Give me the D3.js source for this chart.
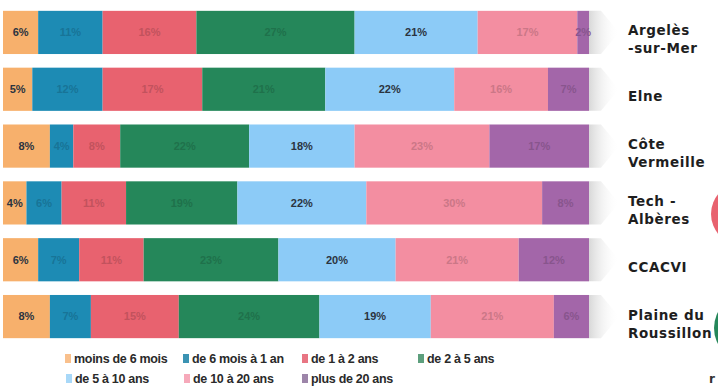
<!DOCTYPE html>
<html>
<head>
<meta charset="utf-8">
<script src="https://cdn.jsdelivr.net/npm/d3@7"></script>
<style>
  body { margin: 0; background: #fff; }
  svg { display: block; }
</style>
</head>
<body>
<script>
const width = 718;
const height = 392;

// communes (right-hand labels, one entry per line)
const communes = [
  ['Argelès', '-sur-Mer'],
  ['Elne'],
  ['Côte', 'Vermeille'],
  ['Tech -', 'Albères'],
  ['CCACVI'],
  ['Plaine du', 'Roussillon']
];
const categories = ['moins de 6 mois', 'de 6 mois à 1 an', 'de 1 à 2 ans', 'de 2 à 5 ans',
  'de 5 à 10 ans', 'de 10 à 20 ans', 'plus de 20 ans'];

// shares in %, one value per commune
const moins6mois = [6, 5, 8, 4, 6, 8];
const de6moisA1an = [11, 12, 4, 6, 7, 7];
const de1a2ans = [16, 17, 8, 11, 11, 15];
const de2a5ans = [27, 21, 22, 19, 23, 24];
const de5a10ans = [21, 22, 18, 22, 20, 19];
const de10a20ans = [17, 16, 23, 30, 21, 21];
const plus20ans = [2, 7, 17, 8, 12, 6];

const series = [moins6mois, de6moisA1an, de1a2ans, de2a5ans, de5a10ans, de10a20ans, plus20ans];

const colors = ['#f7b06c', '#1d8bb4', '#e8626f', '#25875a', '#8ccbf7', '#f38ea1', '#a366a9'];
const legendColors = ['#f9c08c', '#3b93b3', '#e87583', '#5d9f7d', '#a8d8f8', '#f6a9ba', '#9d85a9'];
const darkLabel = [true, false, false, false, true, false, false];

const rows = communes.map((c, i) => {
  const r = { key: i };
  categories.forEach((cat, j) => { r[cat] = series[j][i]; });
  return r;
});

const stacked = d3.stack().keys(categories)(rows);

const xScale = d3.scaleLinear().domain([0, 100]).range([3, 589]);
const yScale = d3.scaleBand().domain(d3.range(communes.length))
  .range([8, 341]).paddingInner(0.24).paddingOuter(0.05);

const svg = d3.select('body').append('svg')
  .attr('width', width)
  .attr('height', height);

const defs = svg.append('defs');
const grad = defs.append('linearGradient').attr('id', 'shade');
grad.append('stop').attr('offset', '0%').attr('stop-color', '#d8d8d8');
grad.append('stop').attr('offset', '100%').attr('stop-color', '#fff').attr('stop-opacity', 0);

// decorative shapes cut by the right edge
svg.append('circle').attr('cx', 742).attr('cy', 214).attr('r', 31).attr('fill', '#e8626f');
svg.append('circle').attr('cx', 748).attr('cy', 328).attr('r', 34).attr('fill', '#25875a');
svg.append('text').attr('x', 709).attr('y', 383).text('r')
  .style('font', 'bold 12px "DejaVu Sans"').attr('fill', '#333');

// grey arrow shadow behind each bar end
svg.append('g').selectAll('path')
  .data(communes)
  .join('path')
  .attr('d', (d, i) => {
    const y0 = yScale(i), h = yScale.bandwidth(), x0 = xScale(100);
    return `M${x0},${y0} L${x0 + 12},${y0} L${x0 + 30},${y0 + h / 2} L${x0 + 12},${y0 + h} L${x0},${y0 + h} Z`;
  })
  .attr('fill', 'url(#shade)');

const layers = svg.append('g').selectAll('g')
  .data(stacked)
  .join('g')
  .attr('fill', (d, i) => colors[i]);

layers.selectAll('rect')
  .data(d => d)
  .join('rect')
  .attr('x', d => xScale(d[0]))
  .attr('y', d => yScale(d.data.key))
  .attr('width', d => xScale(d[1]) - xScale(d[0]))
  .attr('height', yScale.bandwidth());

layers.selectAll('text')
  .data((d, i) => d.map(v => ({ v, i })))
  .join('text')
  .attr('x', d => (xScale(d.v[0]) + xScale(d.v[1])) / 2)
  .attr('y', d => yScale(d.v.data.key) + yScale.bandwidth() / 2)
  .attr('dy', '0.35em')
  .attr('text-anchor', 'middle')
  .style('font', 'bold 11px "Liberation Sans Narrow", "Liberation Sans", sans-serif')
  .attr('fill', d => darkLabel[d.i] ? '#2b3440' : d3.color(colors[d.i]).darker(0.5))
  .text(d => (d.v[1] - d.v[0]) + '%');

// commune names
const names = svg.append('g').selectAll('text')
  .data(communes)
  .join('text')
  .attr('x', 628)
  .attr('y', (d, i) => yScale(i) + yScale.bandwidth() / 2 + 12 - (d.length - 1) * 9)
  .attr('dy', '0.35em')
  .style('font', 'bold 13.5px "DejaVu Sans", sans-serif')
  .style('letter-spacing', '0.6px')
  .attr('fill', '#1e1e1e');

names.selectAll('tspan')
  .data(d => d)
  .join('tspan')
  .attr('x', 628)
  .attr('dy', (d, i) => i === 0 ? 0 : 18)
  .text(d => d);

// legend
const legendPos = [[65, 359], [183, 359], [302, 359], [418, 359], [66, 379], [184, 379], [302, 379]];
const legend = svg.append('g').selectAll('g')
  .data(categories)
  .join('g')
  .attr('transform', (d, i) => `translate(${legendPos[i][0]},${legendPos[i][1]})`);

legend.append('rect')
  .attr('x', 0).attr('y', -5).attr('width', 6).attr('height', 9)
  .attr('fill', (d, i) => legendColors[i]);

legend.append('text')
  .attr('x', 9)
  .attr('dy', '0.35em')
  .style('font', 'bold 12.5px "Liberation Sans Narrow", "Liberation Sans", sans-serif')
  .style('letter-spacing', '-0.3px')
  .attr('fill', '#2a2a2a')
  .text(d => d);
</script>
</body>
</html>
